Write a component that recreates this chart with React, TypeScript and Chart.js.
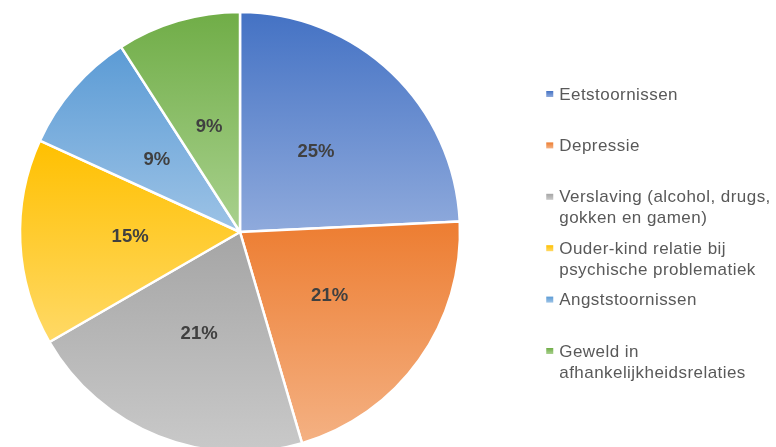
import { useEffect, useRef } from "react";
import { Chart, registerables } from "chart.js";

Chart.register(...registerables);

// ---- data ----
const categories: string[][] = [
  ["Eetstoornissen"],
  ["Depressie"],
  ["Verslaving (alcohol, drugs,", "gokken en gamen)"],
  ["Ouder-kind relatie bij", "psychische problematiek"],
  ["Angststoornissen"],
  ["Geweld in", "afhankelijkheidsrelaties"],
];
const counts = [8, 7, 7, 5, 3, 3];
const percentLabels = ["25%", "21%", "21%", "15%", "9%", "9%"];

// ---- styles ----
const topColors = ["#4472C4", "#ED7D31", "#A5A5A5", "#FFC000", "#5B9BD5", "#70AD47"];
const bottomColors = ["#8FAADC", "#F4B183", "#C9C9C9", "#FFD966", "#9DC3E6", "#A9D18E"];
const BORDER = 2.5;

function sliceGradient(ctx: any) {
  const chart = ctx.chart;
  const i: number = ctx.dataIndex ?? 0;
  const area = chart.chartArea;
  if (!area) return topColors[i];
  const cx = (area.left + area.right) / 2;
  const cy = (area.top + area.bottom) / 2;
  const r = (Math.min(area.right - area.left, area.bottom - area.top) - BORDER) / 2;
  const total = counts.reduce((a, b) => a + b, 0);
  let before = 0;
  for (let j = 0; j < i; j++) before += counts[j];
  const a0 = -Math.PI / 2 + (before / total) * Math.PI * 2;
  const a1 = a0 + (counts[i] / total) * Math.PI * 2;
  const ys = [cy, cy + r * Math.sin(a0), cy + r * Math.sin(a1)];
  for (const k of [-Math.PI / 2, Math.PI / 2, (3 * Math.PI) / 2]) {
    if (k >= a0 - 1e-9 && k <= a1 + 1e-9) ys.push(cy + r * Math.sin(k));
  }
  const ymin = Math.min(...ys);
  const ymax = Math.max(...ys);
  const g = chart.ctx.createLinearGradient(0, ymin, 0, ymax);
  g.addColorStop(0, topColors[i]);
  g.addColorStop(1, bottomColors[i]);
  return g;
}

const labelPlugin = {
  id: "sliceLabels",
  afterDatasetsDraw(chart: any) {
    const meta = chart.getDatasetMeta(0);
    const c = chart.ctx;
    c.save();
    c.font = 'bold 18.5px "Liberation Sans", Arial, sans-serif';
    c.fillStyle = "#404040";
    c.textAlign = "center";
    c.textBaseline = "middle";
    meta.data.forEach((arc: any, i: number) => {
      const { x, y, startAngle, endAngle, outerRadius } = arc.getProps(
        ["x", "y", "startAngle", "endAngle", "outerRadius"],
        true
      );
      const mid = (startAngle + endAngle) / 2;
      const d = outerRadius * 0.5;
      c.fillText(percentLabels[i], x + Math.cos(mid) * d, y + Math.sin(mid) * d);
    });
    c.restore();
  },
};

const legendPlugin = {
  id: "sideLegend",
  afterDraw(chart: any) {
    const c = chart.ctx;
    const area = chart.chartArea;
    const boxX = area.right + 85;
    const textX = boxX + 13;
    const firstY = 94;
    const step = 51.4;
    const lineH = 21;
    c.save();
    c.font = '17px "Liberation Sans", Arial, sans-serif';
    (c as any).letterSpacing = "0.45px";
    c.textBaseline = "middle";
    c.textAlign = "left";
    categories.forEach((lines, i) => {
      const y0 = firstY + i * step;
      const g = c.createLinearGradient(0, y0 - 3, 0, y0 + 3);
      g.addColorStop(0, topColors[i]);
      g.addColorStop(1, bottomColors[i]);
      c.fillStyle = g;
      c.fillRect(boxX, y0 - 3, 7, 6);
      c.fillStyle = "#595959";
      lines.forEach((t, k) => c.fillText(t, textX, y0 + k * lineH + 1));
    });
    c.restore();
  },
};

export default function App() {
  const ref = useRef<HTMLCanvasElement | null>(null);

  useEffect(() => {
    if (!ref.current) return;
    const chart = new Chart(ref.current, {
      type: "pie",
      data: {
        labels: categories.map((l) => l.join(" ")),
        datasets: [
          {
            data: counts,
            backgroundColor: sliceGradient as any,
            borderColor: "#ffffff",
            borderWidth: BORDER,
            hoverOffset: 0,
          },
        ],
      },
      options: {
        responsive: false,
        animation: false,
        events: [],
        layout: {
          padding: { left: 18.75, top: 10.75, right: 314.75, bottom: 6.75 },
        },
        plugins: {
          legend: { display: false },
          tooltip: { enabled: false },
        },
      },
      plugins: [labelPlugin, legendPlugin],
    });
    return () => chart.destroy();
  }, []);

  return (
    <div
      style={{
        position: "fixed",
        left: 0,
        top: 0,
        width: 776,
        height: 447,
        overflow: "hidden",
        background: "#ffffff",
      }}
    >
      <canvas
        ref={ref}
        width={776}
        height={460}
        style={{ display: "block", width: 776, height: 460 }}
      />
    </div>
  );
}
